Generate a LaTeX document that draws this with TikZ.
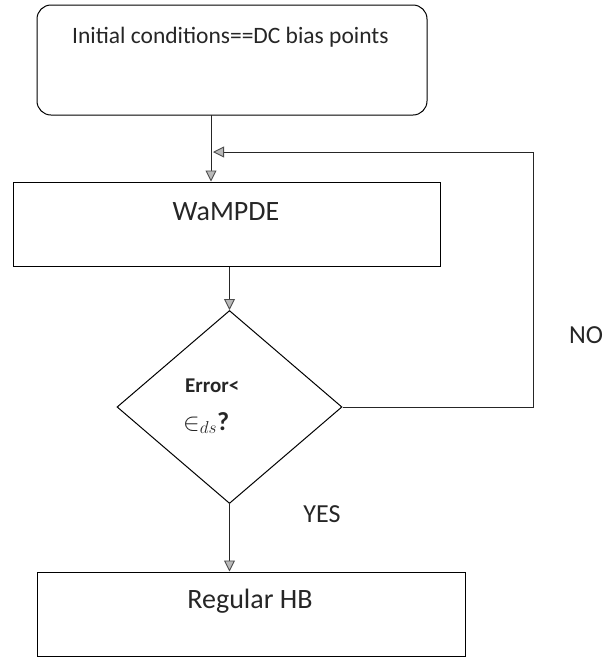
\documentclass[tikz,border=0pt]{standalone}
\usepackage{fontspec}
\setmainfont{Carlito}
\usetikzlibrary{shapes.geometric,arrows.meta}
\begin{document}
\begin{tikzpicture}[x=1pt,y=-1pt,
  box/.style={draw=black, line width=1pt, inner sep=0pt},
  lbl/.style={inner sep=0pt, text=black!85},
  conn/.style={draw=black!85, line width=0.9pt},
  tip/.style={-{Triangle[length=11pt,width=11pt,fill=gray!55,color=black!70]}}]
\useasboundingbox (0,0) rectangle (610,657);
% boxes
\node[box, rounded corners=14pt, minimum width=390pt, minimum height=110pt] (init) at (232,60) {};
\node[lbl, anchor=base west, font=\fontsize{23.5}{26}\selectfont] (initt) at (72,43) {Initial conditions==DC bias points};
\node[box, minimum width=427pt, minimum height=84pt] (wam) at (226.5,224) {};
\node[lbl, anchor=base, font=\fontsize{28}{30}\selectfont] (wamt) at (226,220) {WaMPDE};
\node[box, diamond, minimum width=225pt, minimum height=193pt] (dia) at (229.5,407) {};
\node[lbl, anchor=base west, font=\fontsize{21}{23}\selectfont\bfseries] (err) at (185,392) {Error<};
\node[lbl, anchor=base west, font=\fontsize{26}{28}\selectfont] (eps) at (183,430) {{\fontsize{31}{33}\selectfont$\in$}$_{ds}$\textbf{?}};
\node[box, minimum width=428pt, minimum height=84pt] (hb) at (251,614) {};
\node[lbl, anchor=base, font=\fontsize{28}{30}\selectfont] (hbt) at (250,608) {Regular HB};
\node[lbl, anchor=base, font=\fontsize{26}{28}\selectfont] (yes) at (322,522) {YES};
\node[lbl, anchor=base, font=\fontsize{26}{28}\selectfont] (no) at (586,343) {NO};
% connectors
\coordinate (a0) at (211,115);
\coordinate (r1) at (533,407);
\coordinate (r2) at (533,152);
\coordinate (j) at (213,152);
\draw[conn, tip] (a0) -- (a0 |- wam.north);
\draw[conn, tip] (dia.east) -- (r1) -- (r2) -- (j);
\draw[conn, tip] (wam.south -| dia.north) -- (dia.north);
\draw[conn, tip] (dia.south) -- (dia.south |- hb.north);
\end{tikzpicture}
\end{document}
